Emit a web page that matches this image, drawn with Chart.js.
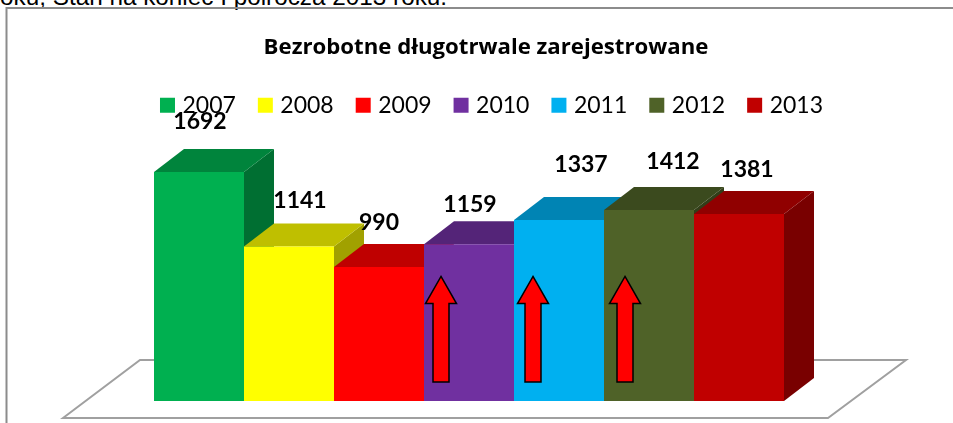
<!DOCTYPE html>
<html>
<head>
<meta charset="utf-8">
<script src="https://cdn.jsdelivr.net/npm/chart.js@4/dist/chart.umd.min.js"></script>
<style>
  html, body { margin: 0; padding: 0; background: #fff; overflow: hidden; }
  #wrap { position: relative; width: 953px; height: 423px; overflow: hidden; }
  #chart { position: absolute; left: 0; top: 0; }
  #cutoff { position: absolute; left: 0; top: -17px; font: 24.3px "Liberation Sans", Arial, sans-serif; color: #000; white-space: nowrap; }
</style>
</head>
<body>
<div id="wrap">
  <div id="cutoff">oku, Stan na koniec I półrocza 2013 roku.</div>
  <canvas id="chart" width="953" height="423"></canvas>
</div>
<script>
// Values
const chartTitle = 'Bezrobotne długotrwale zarejestrowane';
const years = ['2007', '2008', '2009', '2010', '2011', '2012', '2013'];
const values = [1692, 1141, 990, 1159, 1337, 1412, 1381];
const colors = ['#00B050', '#FFFF00', '#FF0000', '#7030A0', '#00B0F0', '#4F6228', '#C00000'];
const arrowYears = ['2010', '2011', '2012'];

// Fake 3D depth of the columns
const depthX = 30;
const depthY = 23;

// Hand placed value labels, offset from the top centre of each column
const labelDx = [1, 11, 0, 1, 22, 24, 8];
const labelDy = [-50, -46, -44, -40, -55, -48, -44];
// Arrows sit a bit differently on each column
const arrowDx = [-28, -26, -24];

function shade(hex, f) {
   const n = parseInt(hex.slice(1), 16);
   const r = Math.round((n >> 16 & 255) * f);
   const g = Math.round((n >> 8 & 255) * f);
   const b = Math.round((n & 255) * f);
   return `rgb(${r},${g},${b})`;
}

function fillPoly(ctx, pts, fill) {
   ctx.beginPath();
   pts.forEach((p, i) => i ? ctx.lineTo(p[0], p[1]) : ctx.moveTo(p[0], p[1]));
   ctx.closePath();
   ctx.fillStyle = fill;
   ctx.fill();
}

const framePlugin = {
   id: 'frame',
   afterLayout(chart) {
       // title and legend are not centred on the columns in the original
       chart.titleBlock.left += 17;
       chart.titleBlock.right += 17;
       chart.legend.left += 24.5;
       chart.legend.right += 24.5;
   },
   beforeDraw(chart) {
       const ctx = chart.ctx;
       const a = chart.chartArea;
       // chart border, open to the right and bottom of the crop
       ctx.save();
       ctx.strokeStyle = '#8c8c8c';
       ctx.lineWidth = 2;
       ctx.beginPath();
       ctx.moveTo(6.5, chart.height);
       ctx.lineTo(6.5, 8);
       ctx.lineTo(chart.width, 8);
       ctx.stroke();
       // floor
       const base = a.bottom;
       const left = chart.getDatasetMeta(0).data[0];
       const x0 = left.x - left.width / 2;
       ctx.strokeStyle = '#a0a0a0';
       ctx.beginPath();
       ctx.moveTo(x0 - 91, base + 17);
       ctx.lineTo(x0 - 14, base - 41);
       ctx.lineTo(x0 + 752, base - 41);
       ctx.lineTo(x0 + 674, base + 17);
       ctx.closePath();
       ctx.stroke();
       ctx.restore();
   },
   beforeDatasetsDraw(chart) {
       // side and top faces first, left to right, the fronts then cover what they should
       const ctx = chart.ctx;
       ctx.save();
       years.forEach((year, i) => {
           const el = chart.getDatasetMeta(i).data[0];
           const l = el.x - el.width / 2;
           const r = el.x + el.width / 2;
           fillPoly(ctx, [[r, el.base], [r + depthX, el.base - depthY], [r + depthX, el.y - depthY], [r, el.y]], shade(colors[i], 0.63));
           fillPoly(ctx, [[l, el.y], [l + depthX, el.y - depthY], [r + depthX, el.y - depthY], [r, el.y]], shade(colors[i], 0.75));
       });
       ctx.restore();
   },
   afterDatasetsDraw(chart) {
       const ctx = chart.ctx;
       const yScale = chart.scales.y;
       ctx.save();
       // red arrows
       arrowYears.forEach((year, i) => {
           const el = chart.getDatasetMeta(years.indexOf(year)).data[0];
           const cx = el.x + arrowDx[i];
           const top = yScale.getPixelForValue(920);
           const neck = yScale.getPixelForValue(720);
           const foot = yScale.getPixelForValue(140);
           ctx.beginPath();
           ctx.moveTo(cx, top);
           ctx.lineTo(cx + 15.5, neck);
           ctx.lineTo(cx + 8, neck);
           ctx.lineTo(cx + 8, foot);
           ctx.lineTo(cx - 8, foot);
           ctx.lineTo(cx - 8, neck);
           ctx.lineTo(cx - 15.5, neck);
           ctx.closePath();
           ctx.fillStyle = '#FF0000';
           ctx.fill();
           ctx.strokeStyle = '#000';
           ctx.lineWidth = 1.5;
           ctx.stroke();
       });
       // value labels
       ctx.fillStyle = '#000';
       ctx.font = 'bold 23px Lato';
       ctx.textAlign = 'center';
       ctx.textBaseline = 'middle';
       values.forEach((v, i) => {
           const el = chart.getDatasetMeta(i).data[0];
           ctx.fillText(v, el.x + labelDx[i], el.y + labelDy[i]);
       });
       ctx.restore();
   }
};

const datasets = years.map((year, i) => ({
   label: year,
   data: [values[i]],
   backgroundColor: colors[i]
}));

new Chart(document.getElementById('chart'), {
   type: 'bar',
   data: { labels: [''], datasets: datasets },
   options: {
       responsive: false,
       animation: false,
       layout: { padding: { left: 0, right: 15, top: 0, bottom: 22 } },
       datasets: { bar: { categoryPercentage: 630 / 938, barPercentage: 1 } },
       scales: {
           x: { display: false },
           y: { display: false, min: 0, max: 2027 }
       },
       plugins: {
           title: {
               display: true,
               text: chartTitle,
               color: '#000',
               font: { family: 'Open Sans', size: 22.2, weight: 'bold' },
               padding: { top: 34.5, bottom: 6.5 }
           },
           legend: {
               display: true,
               position: 'top',
               labels: {
                   color: '#000',
                   font: { family: 'Lato', size: 23 },
                   usePointStyle: true,
                   pointStyle: 'rect',
                   boxWidth: 7,
                   boxHeight: 15,
                   padding: 26
               }
           },
           tooltip: { enabled: false }
       }
   },
   plugins: [framePlugin]
});
</script>
</body>
</html>
